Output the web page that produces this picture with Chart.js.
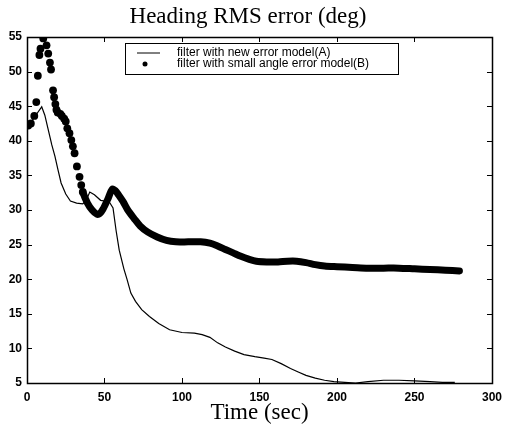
<!DOCTYPE html>
<html>
<head>
<meta charset="utf-8">
<script src="https://cdn.jsdelivr.net/npm/chart.js@4.4.1/dist/chart.umd.min.js"></script>
<style>
html, body { margin: 0; padding: 0; background: #fff; }
#wrap { width: 509px; height: 432px; }
</style>
</head>
<body>
<div id="wrap"><canvas id="chart"></canvas></div>
<script>
// filter A (new error model) - thin line
const timeA = [0.5, 3, 6, 9.5, 11.5, 13.5, 16, 18, 20, 22, 25, 28, 32, 36, 38, 40.5, 43.5, 47.5, 53, 55.5,
  57.5, 59.5, 62.5, 64.5, 67, 70, 74, 79, 85, 92, 100, 108, 113, 118, 123, 128, 134, 140, 147, 153,
  158, 164, 170, 175, 180, 186, 192, 198, 205, 212, 220, 230, 240, 250, 260, 268, 276];
const errA = [42.2, 42.8, 43.8, 44.9, 43.7, 41.8, 39.4, 37.8, 35.8, 33.9, 32.3, 31.3, 31.0, 30.9, 31.3, 32.6, 32.2, 31.4, 31.2, 30.3,
  27.0, 24.2, 21.5, 20.0, 18.0, 16.8, 15.6, 14.6, 13.6, 12.7, 12.3, 12.2, 12.0, 11.6, 10.8, 10.2, 9.6, 9.1, 8.8, 8.6,
  8.4, 7.8, 7.1, 6.6, 6.1, 5.7, 5.4, 5.2, 5.1, 5.0, 5.2, 5.4, 5.4, 5.3, 5.2, 5.1, 5.1];

// filter B (small angle error model) - dots, dense after ~36 s
const timeB = [0.8, 2.5, 4.7, 6, 7, 8, 8.7, 10.5, 12.6, 13.7, 14.8, 15.5, 16.8, 17.5, 18.3, 19, 19.8, 21.5, 22.5, 24,
  25, 26, 27.4, 28.6, 29.6, 30.7, 32.2, 33.9, 35, 36, 39, 42, 45, 47, 49, 52, 55, 57, 59,
  62, 65, 69, 73, 78, 84, 90, 96, 104, 112, 118, 123, 128, 133, 138, 143, 148, 155, 162, 168,
  174, 180, 186, 192, 200, 210, 220, 230, 240, 250, 260, 270, 279];
const errB = [42.2, 42.5, 43.6, 45.6, 49.4, 52.4, 53.3, 54.8, 53.8, 52.6, 51.3, 50.3, 47.3, 46.3, 45.3, 44.5, 44.1, 43.9, 43.6, 43.2,
  42.8, 41.8, 41.1, 40.1, 39.2, 38.2, 36.3, 34.8, 33.6, 32.6, 31.0, 30.0, 29.4, 29.5, 30.1, 31.5, 33.0, 32.8, 32.2,
  31.2, 30.0, 28.8, 27.7, 26.8, 26.1, 25.6, 25.4, 25.4, 25.4, 25.2, 24.8, 24.3, 23.8, 23.3, 22.9, 22.6, 22.5, 22.5, 22.6,
  22.6, 22.4, 22.1, 21.9, 21.8, 21.7, 21.6, 21.6, 21.6, 21.5, 21.4, 21.3, 21.2];

const legendLabels = ['filter with new error model(A)', 'filter with small angle error model(B)'];
const sparseUntil = 36; // B se ve como puntos sueltos antes de esto

const toXY = (ts, vs) => ts.map((t, i) => ({ x: t, y: vs[i] }));

// caja estilo matlab con ticks hacia dentro + leyenda dentro del area
const boxPlugin = {
  id: 'boxPlugin',
  afterDatasetsDraw(chart) {
    const { ctx, chartArea: a, scales } = chart;
    const seg = (x1, y1, x2, y2) => { ctx.beginPath(); ctx.moveTo(x1, y1); ctx.lineTo(x2, y2); ctx.stroke(); };
    ctx.save();
    ctx.strokeStyle = '#000';
    ctx.lineWidth = 1;
    scales.x.ticks.forEach(t => {
      const px = Math.round(scales.x.getPixelForValue(t.value)) + 0.5;
      seg(px, a.bottom, px, a.bottom - 5);
      seg(px, a.top, px, a.top + 5);
    });
    scales.y.ticks.forEach(t => {
      const py = Math.round(scales.y.getPixelForValue(t.value)) + 0.5;
      seg(a.left, py, a.left + 5, py);
      seg(a.right, py, a.right - 5, py);
    });
    ctx.lineWidth = 1.5;
    ctx.strokeRect(Math.round(a.left) + 0.5, Math.round(a.top) + 0.5, Math.round(a.width), Math.round(a.height));

    // leyenda
    const lx = a.left + 98, ly = a.top + 6, lw = 273, lh = 31;
    ctx.fillStyle = '#fff';
    ctx.fillRect(lx, ly, lw, lh);
    ctx.lineWidth = 1;
    ctx.strokeRect(lx + 0.5, ly + 0.5, lw, lh);
    ctx.lineWidth = 1;
    seg(lx + 12, ly + 10, lx + 35, ly + 10);
    ctx.fillStyle = '#000';
    ctx.beginPath();
    ctx.arc(lx + 20, ly + 21, 2.5, 0, Math.PI * 2);
    ctx.fill();
    ctx.font = '12px "Liberation Sans", Arial, sans-serif';
    ctx.textBaseline = 'middle';
    ctx.fillText(legendLabels[0], lx + 52, ly + 10);
    ctx.fillText(legendLabels[1], lx + 52, ly + 21);
    ctx.restore();
  }
};

const ctx = document.getElementById('chart').getContext('2d');
new Chart(ctx, {
  type: 'scatter',
  data: {
    datasets: [{
      label: legendLabels[0],
      data: toXY(timeA, errA),
      showLine: true,
      borderColor: '#000',
      borderWidth: 1.2,
      pointRadius: 0,
      tension: 0
    }, {
      label: legendLabels[1],
      data: toXY(timeB, errB),
      showLine: true,
      borderColor: '#000',
      borderWidth: 7,
      borderCapStyle: 'round',
      borderJoinStyle: 'round',
      backgroundColor: '#000',
      pointBackgroundColor: '#000',
      pointBorderWidth: 0,
      pointRadius: c => (c.raw && c.raw.x <= sparseUntil ? 3.9 : 0),
      segment: {
        borderColor: c => (c.p0.parsed.x < sparseUntil ? 'rgba(0,0,0,0)' : '#000')
      },
      tension: 0.3
    }]
  },
  options: {
    responsive: true,
    maintainAspectRatio: false,
    animation: false,
    layout: { padding: { left: 0, right: 13, top: 0, bottom: 0 } },
    plugins: {
      legend: { display: false },
      tooltip: { enabled: false },
      title: {
        display: true,
        text: 'Heading RMS error (deg)',
        color: '#000',
        font: { family: '"Liberation Serif", "Times New Roman", serif', size: 23, weight: 'normal' },
        padding: { top: 3, bottom: 6.4 }
      }
    },
    scales: {
      x: {
        type: 'linear',
        min: 0,
        max: 300,
        grid: { display: false, drawTicks: false },
        border: { display: false },
        ticks: {
          stepSize: 50,
          padding: 7,
          color: '#000',
          maxRotation: 0,
          font: { family: '"Liberation Sans", Arial, sans-serif', size: 12, weight: 'bold' }
        },
        title: {
          display: true,
          text: 'Time (sec)',
          color: '#000',
          font: { family: '"Liberation Serif", "Times New Roman", serif', size: 23, weight: 'normal' },
          padding: { top: 2, bottom: 5 }
        },
        afterFit: s => { s.height = 49; }
      },
      y: {
        min: 5,
        max: 55,
        grid: { display: false, drawTicks: false },
        border: { display: false },
        ticks: {
          stepSize: 5,
          padding: 5,
          color: '#000',
          font: { family: '"Liberation Sans", Arial, sans-serif', size: 12, weight: 'bold' }
        },
        afterFit: s => { s.width = 27; }
      }
    }
  },
  plugins: [boxPlugin]
});
</script>
</body>
</html>
